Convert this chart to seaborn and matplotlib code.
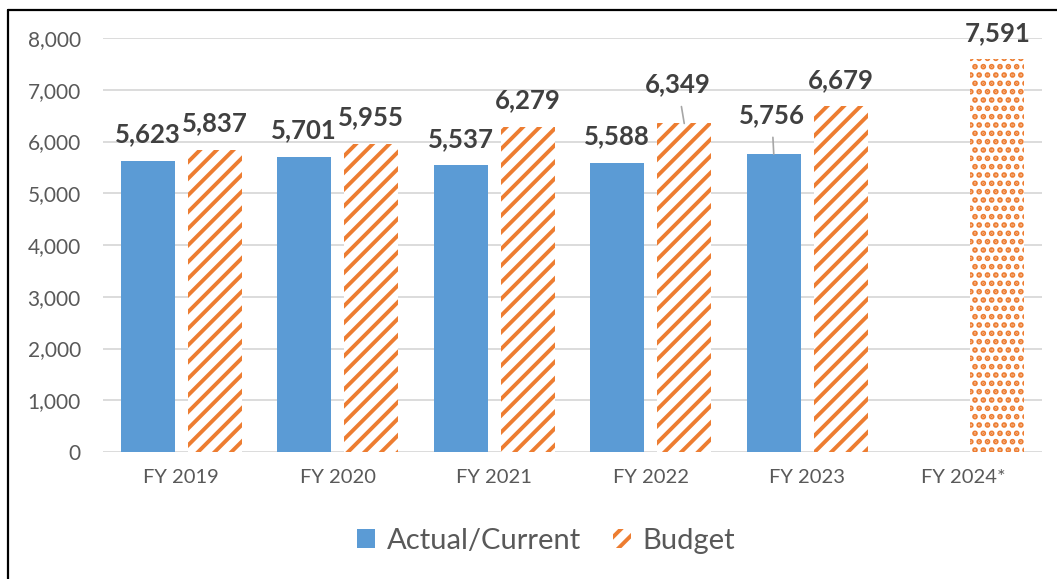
import matplotlib
matplotlib.use("Agg")
import matplotlib.pyplot as plt
import seaborn as sns
import pandas as pd
import numpy as np
from matplotlib.patches import Patch
from matplotlib.lines import Line2D

years = ["FY 2019", "FY 2020", "FY 2021", "FY 2022", "FY 2023", "FY 2024*"]
actual = [5623, 5701, 5537, 5588, 5756, None]
budget = [5837, 5955, 6279, 6349, 6679, 7591]
series_names = ["Actual/Current", "Budget"]
y_ticks = [0, 1000, 2000, 3000, 4000, 5000, 6000, 7000, 8000]

BLUE = "#5B9BD5"
ORANGE = "#ED7D31"

rows = []
for yr, a, b in zip(years, actual, budget):
    if a is not None:
        rows.append({"year": yr, "series": series_names[0], "value": a})
    rows.append({"year": yr, "series": series_names[1], "value": b})
df = pd.DataFrame(rows)

sns.set_theme(style="white")
plt.rcParams["font.family"] = ["Lato", "DejaVu Sans"]
plt.rcParams["hatch.linewidth"] = 2.8

fig = plt.figure(figsize=(10.57, 5.79), dpi=100)
ax = fig.add_axes([103/1057, 1-452/579, (1042-103)/1057, (452-38)/579])

sns.barplot(data=df, x="year", y="value", hue="series", order=years,
            hue_order=series_names, palette=[BLUE, ORANGE], width=0.856, gap=0.2,
            errorbar=None, saturation=1, legend=False, ax=ax, zorder=3)

# style budget bars
bud_cont = ax.containers[1]
for i, bar in enumerate(bud_cont):
    bar.set_facecolor("white")
    bar.set_edgecolor(ORANGE)
    bar.set_linewidth(0)
    bar.set_hatch(".." if years[i].endswith("*") else "//")
for bar in ax.containers[0]:
    bar.set_edgecolor("none")

ax.set_ylim(0, 8000)
ax.set_xlim(-0.5, len(years) - 0.5)
ax.set_yticks(y_ticks)
ax.set_yticklabels([f"{v:,}" for v in y_ticks])
ax.grid(axis="y", color="#D9D9D9", linewidth=1.3, zorder=0)
ax.set_axisbelow(True)
for s in ax.spines.values():
    s.set_visible(False)
ax.tick_params(axis="y", length=0, pad=16, labelsize=15, labelcolor="#595959")
ax.tick_params(axis="x", length=0, pad=12, labelsize=14.5, labelcolor="#595959")
ax.set_xlabel("")
ax.set_ylabel("")

# data labels
lift = {("Budget", "FY 2022"): (-6.5, 12.5), ("Actual/Current", "FY 2023"): (-2, 12.5)}
for cont, sname in zip(ax.containers, series_names):
    yrs = [y for y, a in zip(years, actual) if a is not None] if sname == series_names[0] else years
    for bar, yr in zip(cont, yrs):
        h = bar.get_height()
        if np.isnan(h):
            continue
        cx = bar.get_x() + bar.get_width() / 2
        dx, dy = lift.get((sname, yr), (0, 0))
        kw = {}
        if (sname, yr) in lift:
            kw["arrowprops"] = dict(arrowstyle="-", color="#A6A6A6", lw=1.2,
                                    shrinkA=5, shrinkB=0)
        ax.annotate(f"{int(h):,}", xy=(cx, h), xytext=(dx * 0.72, (18.5 + dy) * 0.72),
                    textcoords="offset points", ha="center", va="baseline",
                    fontsize=18.5, fontweight="bold", color="#404040",
                    annotation_clip=False, **kw)

handles = [Patch(facecolor=BLUE, edgecolor="none"),
           Patch(facecolor="white", edgecolor=ORANGE, hatch="//", linewidth=0)]
fig.legend(handles, series_names, loc="center", bbox_to_anchor=(546/1057, 1-541/579),
           ncol=2, frameon=False, fontsize=21, handlelength=0.62, handleheight=0.62,
           handletextpad=0.4, columnspacing=1.1, labelcolor="#595959")

# outer border (left and top)
fig.add_artist(Line2D([8/1057, 8/1057], [0, 1-10/579], color="black", lw=1.6,
                      transform=fig.transFigure))
fig.add_artist(Line2D([8/1057, 1], [1-10/579, 1-10/579], color="black", lw=1.6,
                      transform=fig.transFigure))

fig.savefig("out.png", dpi=100)
